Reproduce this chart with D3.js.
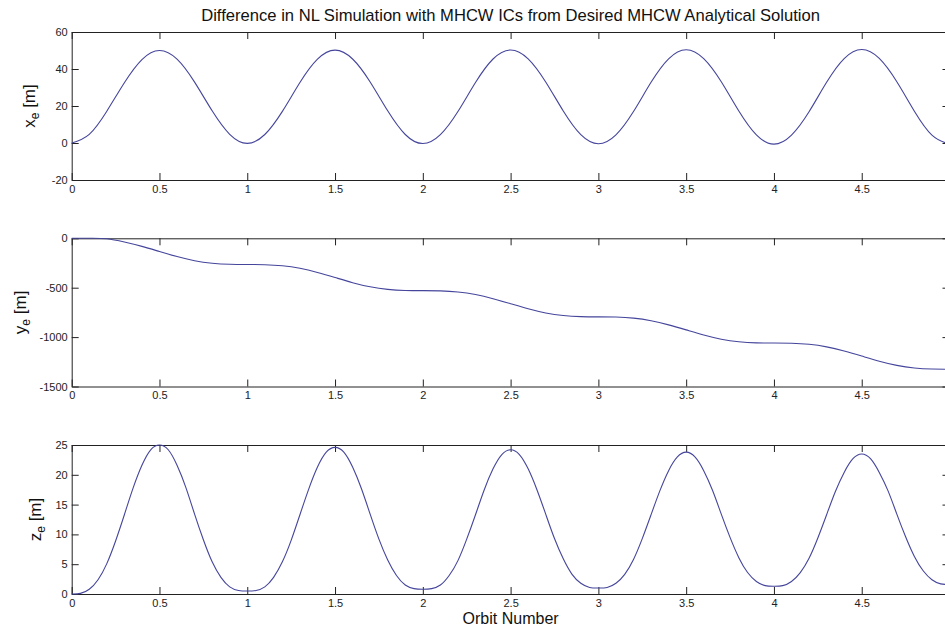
<!DOCTYPE html>
<html>
<head>
<meta charset="utf-8">
<script src="https://cdn.jsdelivr.net/npm/d3@7"></script>
<style>
  body { margin: 0; background: #fff; }
  svg { display: block; overflow: hidden; }
  text { font-family: "Liberation Sans", Arial, sans-serif; }
</style>
</head>
<body>
<div id="graph"></div>
<script>
// orbit number samples
var orbit10 = [0, 0.1, 0.2, 0.3, 0.4, 0.5, 0.6, 0.7, 0.8, 0.9,
  1, 1.1, 1.2, 1.3, 1.4, 1.5, 1.6, 1.7, 1.8, 1.9,
  2, 2.1, 2.2, 2.3, 2.4, 2.5, 2.6, 2.7, 2.8, 2.9,
  3, 3.1, 3.2, 3.3, 3.4, 3.5, 3.6, 3.7, 3.8, 3.9,
  4, 4.1, 4.2, 4.3, 4.4, 4.5, 4.6, 4.7, 4.8, 4.9, 5]

var orbit20 = [0, 0.05, 0.1, 0.15, 0.2, 0.25, 0.3, 0.35, 0.4, 0.45,
  0.5, 0.55, 0.6, 0.65, 0.7, 0.75, 0.8, 0.85, 0.9, 0.95,
  1, 1.05, 1.1, 1.15, 1.2, 1.25, 1.3, 1.35, 1.4, 1.45,
  1.5, 1.55, 1.6, 1.65, 1.7, 1.75, 1.8, 1.85, 1.9, 1.95,
  2, 2.05, 2.1, 2.15, 2.2, 2.25, 2.3, 2.35, 2.4, 2.45,
  2.5, 2.55, 2.6, 2.65, 2.7, 2.75, 2.8, 2.85, 2.9, 2.95,
  3, 3.05, 3.1, 3.15, 3.2, 3.25, 3.3, 3.35, 3.4, 3.45,
  3.5, 3.55, 3.6, 3.65, 3.7, 3.75, 3.8, 3.85, 3.9, 3.95,
  4, 4.05, 4.1, 4.15, 4.2, 4.25, 4.3, 4.35, 4.4, 4.45,
  4.5, 4.55, 4.6, 4.65, 4.7, 4.75, 4.8, 4.85, 4.9, 4.95, 5]

// x_e [m], sampled every 0.1 orbit
var xeValues = [0, 4.7, 17.2, 32.6, 45.1, 50.0, 45.3, 32.9, 17.4, 4.7,
  -0.2, 4.6, 17.1, 32.7, 45.3, 50.2, 45.4, 33.0, 17.4, 4.6,
  -0.3, 4.5, 17.0, 32.7, 45.4, 50.3, 45.5, 33.0, 17.3, 4.5,
  -0.4, 4.4, 17.0, 32.8, 45.5, 50.4, 45.6, 33.1, 17.3, 4.4,
  -0.6, 4.3, 16.9, 32.8, 45.6, 50.5, 45.7, 33.1, 17.2, 4.3, -0.7]

// y_e [m], sampled every 0.1 orbit
var yeValues = [0, 0, -5, -38, -82, -134, -185, -227, -252, -263,
  -265, -267, -278, -304, -346, -397, -449, -491, -517, -528,
  -530, -532, -543, -569, -611, -662, -714, -756, -782, -793,
  -795, -797, -808, -834, -876, -927, -979, -1021, -1047, -1058,
  -1060, -1062, -1073, -1099, -1141, -1192, -1244, -1286, -1312, -1323, -1325]

// z_e [m], sampled every 0.05 orbit
var zeValues = [0, 0.1, 0.8, 2.4, 5.1, 8.9, 13.3, 17.8, 21.6, 24.2,
  25.0, 24.2, 21.6, 17.9, 13.4, 9.1, 5.4, 2.8, 1.2, 0.6,
  0.5, 0.6, 1.2, 2.8, 5.4, 9.0, 13.3, 17.6, 21.3, 23.8,
  24.6, 23.8, 21.3, 17.7, 13.4, 9.2, 5.7, 3.1, 1.5, 0.9,
  0.8, 0.9, 1.5, 3.1, 5.6, 9.2, 13.3, 17.5, 21.0, 23.4,
  24.2, 23.4, 21.0, 17.5, 13.4, 9.3, 5.9, 3.3, 1.8, 1.1,
  1.0, 1.1, 1.8, 3.3, 5.8, 9.3, 13.3, 17.3, 20.7, 23.0,
  23.8, 23.0, 20.7, 17.4, 13.4, 9.5, 6.1, 3.6, 2.1, 1.4,
  1.3, 1.4, 2.1, 3.6, 6.0, 9.4, 13.3, 17.2, 20.4, 22.7,
  23.5, 22.7, 20.4, 17.3, 13.4, 9.6, 6.3, 3.9, 2.4, 1.7, 1.6]

var xTicks = [0, 0.5, 1, 1.5, 2, 2.5, 3, 3.5, 4, 4.5, 5]
var xTickLabels = ["0", "0.5", "1", "1.5", "2", "2.5", "3", "3.5", "4", "4.5", ""]
var xeTicks = [-20, 0, 20, 40, 60]
var yeTicks = [-1500, -1000, -500, 0]
var zeTicks = [0, 5, 10, 15, 20, 25]

var W = 945
var H = 628
var left = 71.7
var right = 949.5
var tick = 7
var lineColor = "#45459c"

var svg = d3.select("#graph").append("svg")
    .attr("width", W)
    .attr("height", H)

var x = d3.scaleLinear().domain([0, 5]).range([left, right])

// one panel per component
var panels = [
  { xs: orbit10, ys: xeValues, domain: [-20, 60], ticks: xeTicks, top: 32, bottom: 180, sym: "x", labelX: 35 },
  { xs: orbit10, ys: yeValues, domain: [-1500, 0], ticks: yeTicks, top: 238.3, bottom: 386.5, sym: "y", labelX: 26 },
  { xs: orbit20, ys: zeValues, domain: [0, 25], ticks: zeTicks, top: 445, bottom: 594, sym: "z", labelX: 41 }
]

panels.forEach(function (p) {
    var y = d3.scaleLinear().domain(p.domain).range([p.bottom, p.top])
    var g = svg.append("g")

    // bottom axis with labels
    g.append("g")
        .attr("transform", "translate(0," + p.bottom + ")")
        .call(d3.axisBottom(x).tickValues(xTicks).tickSizeInner(-tick).tickSizeOuter(0)
            .tickPadding(5).tickFormat(function (d, i) { return xTickLabels[i] }))
    // top axis, ticks only
    g.append("g")
        .attr("transform", "translate(0," + p.top + ")")
        .call(d3.axisTop(x).tickValues(xTicks).tickSizeInner(-tick).tickSizeOuter(0)
            .tickFormat(""))
    // left axis
    g.append("g")
        .attr("transform", "translate(" + left + ",0)")
        .call(d3.axisLeft(y).tickValues(p.ticks).tickSizeInner(-tick).tickSizeOuter(0)
            .tickPadding(4).tickFormat(function (d) { return String(d) }))
    // right axis, ticks only
    g.append("g")
        .attr("transform", "translate(" + right + ",0)")
        .call(d3.axisRight(y).tickValues(p.ticks).tickSizeInner(-tick).tickSizeOuter(0)
            .tickFormat(""))

    g.selectAll(".domain, .tick line").attr("stroke", "#222")
    g.selectAll(".tick text").attr("fill", "#222").style("font-size", "11px")
        .style("font-family", "'Liberation Sans', Arial, sans-serif")

    var line = d3.line()
        .x(function (d, i) { return x(p.xs[i]) })
        .y(function (d) { return y(d) })
        .curve(d3.curveNatural)

    g.append("path")
        .datum(p.ys)
        .attr("d", line)
        .attr("fill", "none")
        .attr("stroke", lineColor)
        .attr("stroke-width", 1.1)

    // y label: e.g. x_e [m]
    var lab = g.append("text")
        .attr("transform", "translate(" + p.labelX + "," + (p.top + p.bottom) / 2 + ") rotate(-90)")
        .attr("text-anchor", "middle")
        .attr("fill", "#111")
        .style("font-size", "17px")
    lab.append("tspan").text(p.sym)
    lab.append("tspan").attr("dy", 4).style("font-size", "12px").text("e")
    lab.append("tspan").attr("dy", -4).text(" [m]")
})

svg.append("text")
    .attr("x", (left + right) / 2)
    .attr("y", 21)
    .attr("text-anchor", "middle")
    .attr("fill", "#111")
    .style("font-size", "16.6px")
    .text("Difference in NL Simulation with MHCW ICs from Desired MHCW Analytical Solution")

svg.append("text")
    .attr("x", (left + right) / 2)
    .attr("y", 624)
    .attr("text-anchor", "middle")
    .attr("fill", "#111")
    .style("font-size", "16px")
    .text("Orbit Number")
</script>
</body>
</html>
